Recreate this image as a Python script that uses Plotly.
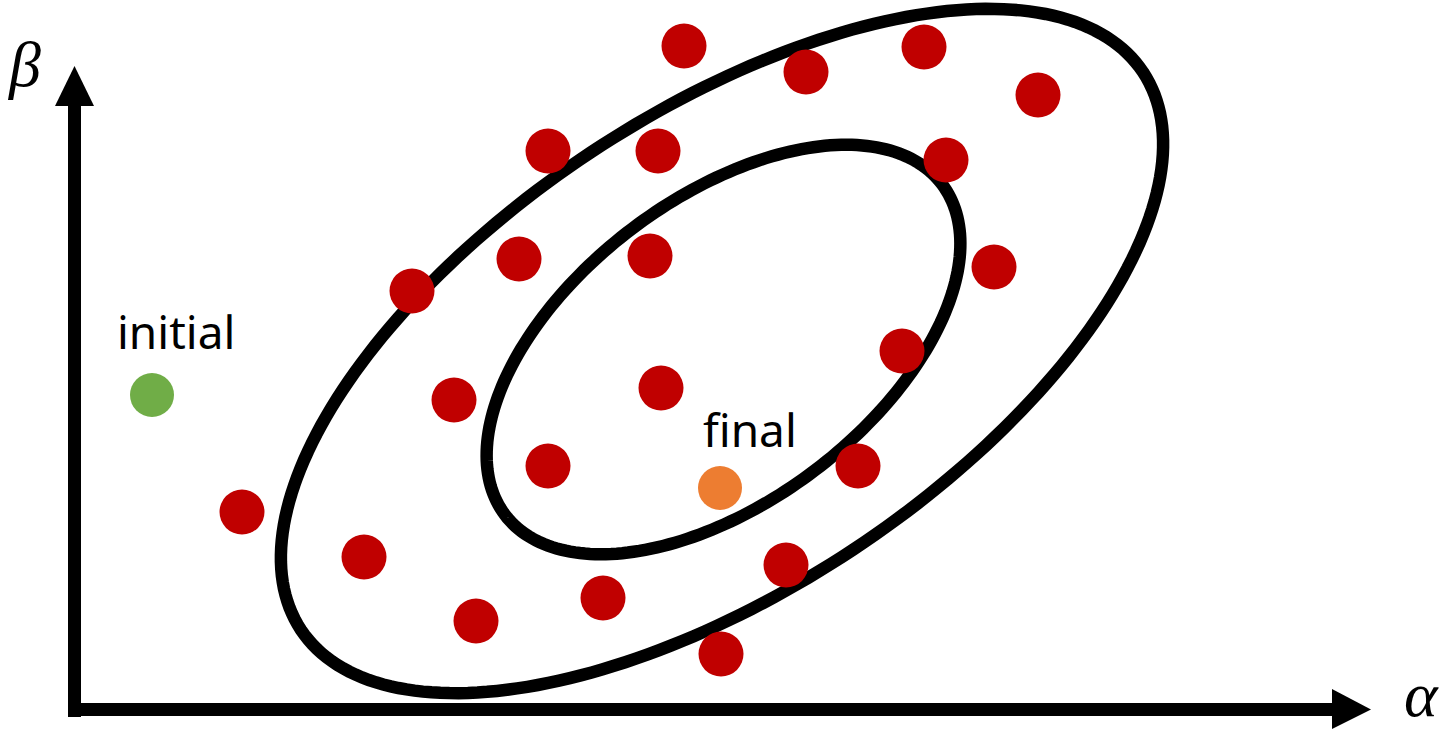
import numpy as np
import plotly.graph_objects as go

# Canvas extent in parameter units
ALPHA_MAX = 14.42
BETA_MAX = 7.31

# Sampled parameter pairs (alpha, beta)
sample_alpha = [6.84, 8.06, 9.24, 10.38, 5.48, 6.58, 9.46, 5.19, 6.50, 9.94, 4.12,
                9.02, 6.61, 4.54, 5.48, 8.58, 2.42, 3.64, 7.86, 6.03, 4.76, 7.21]
sample_beta = [6.85, 6.59, 6.84, 6.36, 5.80, 5.80, 5.71, 4.72, 4.75, 4.64, 4.40,
               3.80, 3.43, 3.31, 2.65, 2.65, 2.19, 1.74, 1.66, 1.33, 1.10, 0.77]

initial_alpha, initial_beta = 1.52, 3.36
final_alpha, final_beta = 7.20, 2.43

# Contours: centre, semi-axes, rotation (degrees)
contour_centers = [(7.22, 3.80), (7.235, 3.815)]
contour_axes = [(5.05, 2.38), (2.74, 1.515)]
contour_angles = [33.5, 37.1]

RED = "#C00000"
GREEN = "#70AD47"
ORANGE = "#ED7D31"


def ellipse_path(center, axes, angle_deg, n=240):
    t = np.linspace(0, 2 * np.pi, n, endpoint=False)
    th = np.deg2rad(angle_deg)
    a, b = axes
    x = center[0] + a * np.cos(t) * np.cos(th) - b * np.sin(t) * np.sin(th)
    y = center[1] + a * np.cos(t) * np.sin(th) + b * np.sin(t) * np.cos(th)
    pts = [f"{xi:.4f},{yi:.4f}" for xi, yi in zip(x, y)]
    return "M" + " L".join(pts) + " Z"


fig = go.Figure()

shapes = []
for c, ax, ang in zip(contour_centers, contour_axes, contour_angles):
    shapes.append(dict(type="path", path=ellipse_path(c, ax, ang), xref="x", yref="y",
                       line=dict(color="black", width=12.5), fillcolor="rgba(0,0,0,0)",
                       layer="below"))

# Axis arrows
ax_x0, ax_y0 = 0.745, 0.215
shapes.append(dict(type="line", x0=ax_x0, y0=0.14, x1=ax_x0, y1=6.27,
                   line=dict(color="black", width=13)))
shapes.append(dict(type="line", x0=0.68, y0=ax_y0, x1=13.36, y1=ax_y0,
                   line=dict(color="black", width=13)))
shapes.append(dict(type="path",
                   path=f"M0.55,6.25 L{ax_x0},6.65 L0.94,6.25 Z",
                   fillcolor="black", line=dict(color="black", width=0)))
shapes.append(dict(type="path",
                   path=f"M13.32,0.42 L13.71,{ax_y0} L13.32,0.02 Z",
                   fillcolor="black", line=dict(color="black", width=0)))

fig.add_trace(go.Scatter(x=sample_alpha, y=sample_beta, mode="markers",
                         marker=dict(size=45, color=RED, line=dict(width=0)),
                         hoverinfo="skip", showlegend=False))
fig.add_trace(go.Scatter(x=[initial_alpha], y=[initial_beta], mode="markers",
                         marker=dict(size=44, color=GREEN, line=dict(width=0)),
                         hoverinfo="skip", showlegend=False))
fig.add_trace(go.Scatter(x=[final_alpha], y=[final_beta], mode="markers",
                         marker=dict(size=44, color=ORANGE, line=dict(width=0)),
                         hoverinfo="skip", showlegend=False))

label_font = dict(family="Noto Sans", size=46, color="black")
greek_font = dict(family="Liberation Serif", size=64, color="black")
annotations = [
    dict(x=1.76, y=4.00, text="initial", showarrow=False, font=label_font,
         xanchor="center", yanchor="middle"),
    dict(x=7.50, y=3.02, text="final", showarrow=False, font=label_font,
         xanchor="center", yanchor="middle"),
    dict(x=0.24, y=6.67, text="<i>β</i>", showarrow=False, font=greek_font,
         xanchor="center", yanchor="middle"),
    dict(x=14.40, y=0.0, text="<i>α</i>", showarrow=False, font=greek_font,
         xanchor="right", yanchor="bottom", borderpad=0),
]

fig.update_layout(
    width=1442, height=731,
    margin=dict(l=0, r=0, t=0, b=0),
    paper_bgcolor="white", plot_bgcolor="white",
    shapes=shapes, annotations=annotations,
    xaxis=dict(range=[0, ALPHA_MAX], visible=False, fixedrange=True),
    yaxis=dict(range=[0, BETA_MAX], visible=False, fixedrange=True),
    showlegend=False,
)

fig.write_html("out.html")
